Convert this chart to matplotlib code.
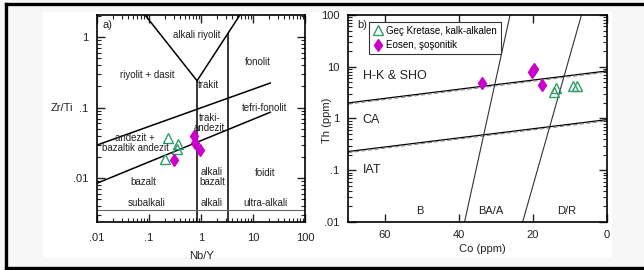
import matplotlib
matplotlib.use("Agg")
import matplotlib.pyplot as plt
from matplotlib.lines import Line2D
from matplotlib.patches import Rectangle
from matplotlib.ticker import FixedLocator, FixedFormatter, LogLocator, NullFormatter

plt.rcParams['font.family'] = ['Liberation Sans', 'DejaVu Sans']

# ---- panel a data: Nb/Y vs Zr/Ti ----
kk_nby = [0.23, 0.36, 0.34, 0.20]          # Gec Kretase, kalk-alkalen
kk_zrti = [0.037, 0.031, 0.026, 0.019]
eo_nby = [0.72, 0.75, 0.95, 0.30]           # Eosen, sosonitik
eo_zrti = [0.040, 0.032, 0.025, 0.018]

# field boundaries (Nb/Y, Zr/Ti)
a_vert1 = ([0.84, 0.84], [0.0024, 0.24])
a_diag_left = ([0.84, 0.084], [0.24, 2.05])
a_diag_right = ([0.84, 5.6], [0.24, 2.05])
a_vert2 = ([3.3, 3.3], [0.0024, 1.1])
a_slope_up = ([0.01, 21.5], [0.0295, 0.223])
a_slope_low = ([0.01, 21.5], [0.0085, 0.086])
a_horiz = ([0.01, 100], [0.0036, 0.0036])

a_labels = [
    ("alkali riyolit", 0.84, 1.07),
    ("riyolit + dasit", 0.091, 0.29),
    ("fonolit", 12.5, 0.44),
    ("trakit", 1.36, 0.21),
    ("tefri-fonolit", 16.3, 0.098),
    ("traki-\nandezit", 1.45, 0.060),
    ("andezit +\nbazaltik andezit", 0.054, 0.032),
    ("bazalt", 0.077, 0.0088),
    ("alkali\nbazalt", 1.63, 0.0103),
    ("foidit", 17, 0.0118),
    ("subalkali", 0.091, 0.0044),
    ("alkali", 1.63, 0.0044),
    ("ultra-alkali", 17, 0.0044),
]

# ---- panel b data: Co vs Th ----
kk_co = [13.7, 14.2, 9.3, 8.2]
kk_th = [3.8, 3.3, 4.2, 4.2]
eo_co = [33.7, 20.3, 19.7, 17.5]
eo_th = [4.8, 7.8, 8.9, 4.4]

b_hk = ([70, 0], [2.0, 8.3])
b_ca = ([70, 0], [0.23, 0.95])
b_steep1 = ([38.5, 26.2], [0.01, 100])
b_steep2 = ([22.8, 6.9], [0.01, 100])

b_labels = [("H-K & SHO", 66, 6.5, 9), ("CA", 66, 0.95, 9), ("IAT", 66, 0.1, 9),
            ("B", 50.5, 0.016, 8), ("BA/A", 31.5, 0.016, 8), ("D/R", 11, 0.016, 8)]

green = '#2f9e6a'
magenta = '#cc00cc'
txtc = '#222222'

fig = plt.figure(figsize=(6.44, 2.70), dpi=100, facecolor='#f7f7f7')
W, H = 644.0, 270.0
fig.add_artist(Rectangle((43 / W, 1 - 258 / H), (612 - 43) / W, (258 - 12) / H,
                         transform=fig.transFigure, facecolor='white', edgecolor='none', zorder=0))
# outer frame
for xs, ys in [([6 / W, 6 / W], [1 - 4 / H, 1 - 268 / H]),
               ([6 / W, 1.0], [1 - 4 / H, 1 - 4 / H]),
               ([6 / W, 1.0], [1 - 268 / H, 1 - 268 / H])]:
    fig.add_artist(Line2D(xs, ys, transform=fig.transFigure, color='black', lw=2.4))

bot = 1 - 222 / H
hgt = 207 / H

# ---------- panel a ----------
ax = fig.add_axes([97 / W, bot, 208 / W, hgt])
ax.set_xscale('log')
ax.set_yscale('log')
ax.set_xlim(0.01, 100)
ax.set_ylim(0.0024, 2.05)
for xs, ys in [a_vert1, a_diag_left, a_diag_right, a_vert2, a_slope_up, a_slope_low]:
    ax.plot(xs, ys, color='black', lw=1.1)
ax.plot(*a_horiz, color='#666666', lw=0.8)
for s, x, y in a_labels:
    ax.text(x, y, s, ha='center', va='center', fontsize=7, color=txtc, linespacing=1.0)
ax.plot(kk_nby, kk_zrti, '^', mfc='none', mec=green, ms=6.5, mew=1.0)
ax.plot(eo_nby, eo_zrti, 'd', color=magenta, ms=6.5)
ax.text(0.025, 0.975, "a)", transform=ax.transAxes, ha='left', va='top', fontsize=8, color=txtc)
ax.xaxis.set_major_locator(FixedLocator([0.01, 0.1, 1, 10, 100]))
ax.xaxis.set_major_formatter(FixedFormatter(['.01', '.1', '1', '10', '100']))
ax.yaxis.set_major_locator(FixedLocator([0.01, 0.1, 1]))
ax.yaxis.set_major_formatter(FixedFormatter(['.01', '.1', '1']))
ax.xaxis.set_minor_locator(LogLocator(base=10, subs=range(2, 10)))
ax.yaxis.set_minor_locator(LogLocator(base=10, subs=range(2, 10)))
ax.xaxis.set_minor_formatter(NullFormatter())
ax.yaxis.set_minor_formatter(NullFormatter())
ax.tick_params(which='both', direction='in', top=True, right=True, labelsize=8, colors='#222222')
ax.tick_params(which='major', length=6, width=1.0, pad=6)
ax.tick_params(axis='x', which='major', pad=8)
ax.tick_params(which='minor', length=3, width=0.8)
for sp in ax.spines.values():
    sp.set_linewidth(1.2)
ax.text(-0.17, 0.55, "Zr/Ti", transform=ax.transAxes, ha='center', va='center', fontsize=8, color=txtc)
ax.text(0.505, -0.165, "Nb/Y", transform=ax.transAxes, ha='center', va='center', fontsize=8, color=txtc)

# ---------- panel b ----------
bx = fig.add_axes([348 / W, bot, 259 / W, hgt])
bx.set_yscale('log')
bx.set_xlim(70, 0)
bx.set_ylim(0.01, 100)
for xs, ys in [b_hk, b_ca]:
    bx.plot(xs, ys, color='black', lw=0.9)
    bx.plot(xs, [v * 0.95 for v in ys], color='#888888', lw=0.8, ls=(0, (4, 2)))
for xs, ys in [b_steep1, b_steep2]:
    bx.plot(xs, ys, color='#333333', lw=0.8)
for s, x, y, fs in b_labels:
    ha = 'left' if x > 60 else 'center'
    bx.text(x, y, s, ha=ha, va='center', fontsize=fs, color=txtc)
bx.plot(kk_co, kk_th, '^', mfc='none', mec=green, ms=6.5, mew=1.0, label="Geç Kretase, kalk-alkalen")
bx.plot(eo_co, eo_th, 'd', color=magenta, ms=6.5, label="Eosen, şoşonitik")
bx.text(0.035, 0.975, "b)", transform=bx.transAxes, ha='left', va='top', fontsize=8, color=txtc)
leg = bx.legend(loc='upper left', bbox_to_anchor=(0.081, 0.968), borderaxespad=0, fancybox=False,
                edgecolor='#333333', framealpha=1, fontsize=7, handlelength=1.0, handletextpad=0.4,
                borderpad=0.4, labelspacing=0.5)
leg.get_frame().set_linewidth(0.8)
bx.xaxis.set_major_locator(FixedLocator([60, 40, 20, 0]))
bx.yaxis.set_major_locator(FixedLocator([0.01, 0.1, 1, 10, 100]))
bx.yaxis.set_major_formatter(FixedFormatter(['.01', '.1', '1', '10', '100']))
bx.yaxis.set_minor_locator(LogLocator(base=10, subs=range(2, 10)))
bx.yaxis.set_minor_formatter(NullFormatter())
bx.tick_params(which='both', direction='in', top=True, right=True, labelsize=8, colors='#222222')
bx.tick_params(which='major', length=6, width=1.0, pad=6)
bx.tick_params(which='minor', length=3, width=0.8)
for sp in bx.spines.values():
    sp.set_linewidth(1.2)
bx.text(-0.082, 0.49, "Th (ppm)", transform=bx.transAxes, rotation=90, ha='center', va='center',
        fontsize=8, color=txtc)
bx.text(0.52, -0.13, "Co (ppm)", transform=bx.transAxes, ha='center', va='center', fontsize=8, color=txtc)

fig.savefig("out.png", dpi=100, facecolor=fig.get_facecolor())
